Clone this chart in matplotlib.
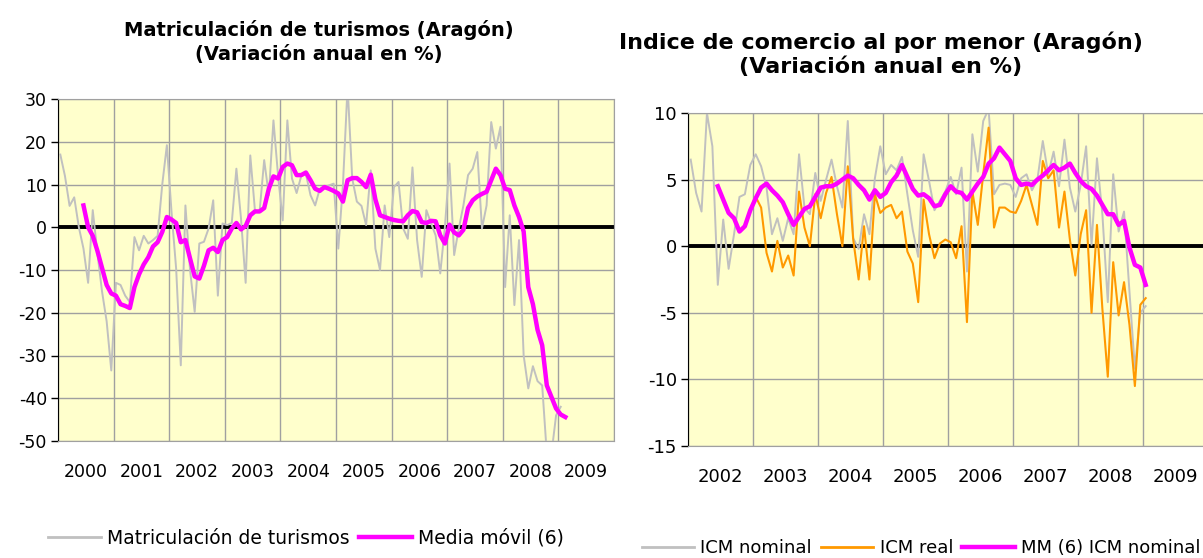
import numpy as np
import matplotlib
matplotlib.use("Agg")
from matplotlib import pyplot as plt
from matplotlib.lines import Line2D

plt.rcParams['font.family'] = ['DejaVu Sans']
plt.rcParams['axes.unicode_minus'] = False

# --- Matriculación de turismos (Aragón), monthly from Jan 2000 ---
turismos = [17, 12, 5, 7, 0, -5, -13, 4, -6, -15, -22, -33.5,
            -13, -13.5, -16, -17.5, -2.3, -5.4, -2, -3.8, -3, -2, 10, 19.2,
            3.6, -9.7, -32.3, 5.1, -10, -19.8, -3.8, -3.4, -0.3, 6.3, -16, 0.9,
            0.5, 1, 13.7, 2, -13, 16.8, 4, 3.6, 15.7, 7.5, 25, 12,
            1.6, 25, 11.4, 8, 12, 12.5, 7.5, 5.1, 9, 9.4, 9.8, 10.2,
            -5, 10, 33, 11.4, 6, 5, 0.5, 13.3, -5, -10, 5.1, -2.3,
            9.4, 10.6, -0.3, -2.7, 14, -3, -11.6, 4, 1, -1.9, -10.8, 0,
            14.9, -6.5, -0.3, 5.1, 12.2, 13.7, 17.6, -0.3, 5.1, 24.6, 18.4, 23.5,
            -14, 2.8, -18.2, -3, -30, -37.7, -32.5, -36, -37, -53, -53, -44,
            -42]
# media móvil (6), starts Jun 2000
media_movil = [5.1, 0, -2, -5.5, -9.5, -13.5, -15.5,
               -16, -18, -18.4, -18.9, -14, -11, -8.7, -7, -4.5, -3.5, -1.1, 2.4,
               1.8, 1, -3.5, -3, -7.3, -11.5, -12, -9, -5.4, -4.8, -5.8, -3,
               -2.3, -0.3, 1, -0.5, 0.3, 2.8, 3.7, 3.7, 4.5, 9, 11.9, 11.4,
               14.1, 14.9, 14.5, 12.2, 12.2, 12.8, 11, 9, 8.5, 9.4, 9, 8.5,
               7.9, 6, 11, 11.5, 11.5, 10.6, 9.4, 12.3, 6.5, 2.8, 2.4, 2,
               1.7, 1.5, 1.4, 2.8, 3.8, 3.5, 1.2, 1, 1.5, 1.4, -1.9, -3.8,
               0.6, -1.2, -1.9, -0.6, 4.5, 6.3, 7.2, 7.8, 8.3, 11, 13.7, 12.2,
               9, 8.7, 5.1, 2.4, -1, -14, -18, -24, -27.6, -37, -39.7, -42.4,
               -43.8, -44.4]

# --- Indice de comercio al por menor (Aragón), monthly from Jan 2002 ---
icm_nominal = [6.5, 4, 2.6, 10, 7.5, -2.9, 2, -1.7, 0.9, 3.7, 3.9, 6.1,
               6.9, 6, 4.4, 0.9, 2.1, 0.4, 2.1, 0.9, 6.9, 2.9, 2.4, 5.5,
               3.4, 5, 6.5, 4.5, 2.9, 9.4, 0.6, -0.2, 2.4, 0.9, 5.1, 7.5,
               5.4, 6.1, 5.7, 6.7, 3.9, 1.2, -0.8, 6.9, 4.9, 2.7, 3.4, 4.1,
               5.2, 3.9, 5.9, -1.9, 8.4, 5.6, 9.4, 10.3, 3.9, 4.6, 4.7, 4.6,
               3.7, 5.1, 5.4, 4.2, 5, 7.9, 5.4, 7.1, 4.5, 8, 4.4, 2.6,
               4.6, 7.5, 0.1, 6.6, 2.4, -4.2, 5.4, 1.1, 2.6, -3.4, -9.2, -5,
               -4.5]
# ICM real, starts Jan 2003
icm_real = [3.7, 2.9, -0.5, -1.9, 0.4, -1.6, -0.7, -2.2, 4.1, 1.4, 0, 3.9,
            2.1, 4, 5.2, 2.4, 0, 6, 0.5, -2.5, 1.5, -2.5, 3.9, 2.5,
            2.9, 3.1, 2.1, 2.6, -0.4, -1.3, -4.2, 3.5, 0.9, -0.9, 0.2, 0.5,
            0.3, -0.9, 1.5, -5.7, 4.1, 1.6, 5.4, 8.9, 1.4, 2.9, 2.9, 2.6,
            2.5, 3.4, 4.6, 3.1, 1.6, 6.4, 5.1, 5.7, 1.4, 4.1, 0.5, -2.2,
            0.9, 2.7, -5, 1.6, -4.7, -9.8, -1.2, -5.2, -2.7, -5.9, -10.5, -4.4,
            -3.9]
# MM (6) ICM nominal, starts Jun 2002
mm_icm = [4.5, 3.5, 2.5, 2.1, 1.1, 1.5, 2.7,
          3.6, 4.4, 4.7, 4.2, 3.8, 3.3, 2.4, 1.6, 2.2, 2.8, 3, 3.7,
          4.4, 4.5, 4.5, 4.7, 5, 5.3, 5.1, 4.6, 4.2, 3.5, 4.2, 3.7,
          4, 4.8, 5.3, 6.1, 5.2, 4.3, 3.8, 3.9, 3.6, 3, 3.1, 3.9,
          4.5, 4.1, 4, 3.5, 4.1, 4.7, 5.2, 6.2, 6.6, 7.4, 6.9, 6.4,
          5.1, 4.6, 4.7, 4.6, 5, 5.3, 5.7, 6.1, 5.7, 5.9, 6.2, 5.5,
          4.9, 4.5, 4.3, 3.8, 3.1, 2.4, 2.4, 1.6, 1.9, -0.1, -1.4, -1.6,
          -2.9]


def meses(ano, mes_inicio, n):
    # mid-month positions in decimal years
    return ano + (np.arange(n) + mes_inicio + 0.5) / 12


GRIS = "#c0c0c0"
MAGENTA = "#ff00ff"
NARANJA = "#ff9900"
FONDO = "#ffffcc"
REJILLA = "#a0a0a0"


def estilo(ax, x0, x1, y0, y1, paso, fs):
    ax.set_facecolor(FONDO)
    ax.set_xlim(x0, x1)
    ax.set_ylim(y0, y1)
    ax.set_xticks(range(x0, x1 + 1))
    ax.set_xticklabels([])
    ax.set_xticks([a + 0.5 for a in range(x0, x1)], minor=True)
    ax.set_xticklabels([str(a) for a in range(x0, x1)], minor=True, fontsize=fs)
    ax.tick_params(axis="x", which="both", length=0)
    ax.tick_params(axis="x", which="minor", pad=16)
    ax.set_yticks(range(y0, y1 + 1, paso))
    ax.tick_params(axis="y", length=5, width=1, color="black", labelsize=fs, pad=3)
    ax.grid(True, which="major", color=REJILLA, lw=1)
    ax.set_axisbelow(True)
    for s in ["top", "right", "bottom"]:
        ax.spines[s].set_color(REJILLA)
    ax.spines["left"].set_color("black")
    ax.axhline(0, color="black", lw=2.8, zorder=1.5)


fig = plt.figure(figsize=(12.03, 5.58), dpi=100)

ax1 = fig.add_axes([58 / 1203, 1 - 441 / 558, 556 / 1203, 342 / 558])
estilo(ax1, 2000, 2010, -50, 30, 10, 12.5)
ax1.plot(meses(2000, 0, len(turismos)), turismos, color=GRIS, lw=1.4, zorder=2)
ax1.plot(meses(2000, 5, len(media_movil)), media_movil, color=MAGENTA, lw=3.2, zorder=3)

ax2 = fig.add_axes([688 / 1203, 1 - 446 / 558, 520 / 1203, 333 / 558])
estilo(ax2, 2002, 2010, -15, 10, 5, 13)
ax2.plot(meses(2002, 0, len(icm_nominal)), icm_nominal, color=GRIS, lw=1.4, zorder=2)
ax2.plot(meses(2002, 12, len(icm_real)), icm_real, color=NARANJA, lw=1.5, zorder=2.5)
ax2.plot(meses(2002, 5, len(mm_icm)), mm_icm, color=MAGENTA, lw=3.2, zorder=3)

fig.text(319 / 1203, 1 - 42 / 558,
         "Matriculación de turismos (Aragón)\n(Variación anual en %)",
         ha="center", va="center", fontsize=14, fontweight="bold", linespacing=1.3)
fig.text(881 / 1203, 1 - 54 / 558,
         "Indice de comercio al por menor (Aragón)\n(Variación anual en %)",
         ha="center", va="center", fontsize=16, fontweight="bold", linespacing=1.2)

h1 = [Line2D([], [], color=GRIS, lw=2), Line2D([], [], color=MAGENTA, lw=3.2)]
fig.legend(h1, ["Matriculación de turismos", "Media móvil (6)"],
           loc="center", bbox_to_anchor=(306 / 1203, 1 - 538 / 558), ncol=2,
           frameon=False, fontsize=13.5, handlelength=2.8, handletextpad=0.35,
           columnspacing=0.5)
h2 = [Line2D([], [], color=GRIS, lw=2), Line2D([], [], color=NARANJA, lw=2),
      Line2D([], [], color=MAGENTA, lw=3.2)]
fig.legend(h2, ["ICM nominal", "ICM real", "MM (6) ICM nominal"],
           loc="center", bbox_to_anchor=(921 / 1203, 1 - 548 / 558), ncol=3,
           frameon=False, fontsize=13, handlelength=2.9, handletextpad=0.35,
           columnspacing=0.5)

fig.savefig("out.png", dpi=100)
